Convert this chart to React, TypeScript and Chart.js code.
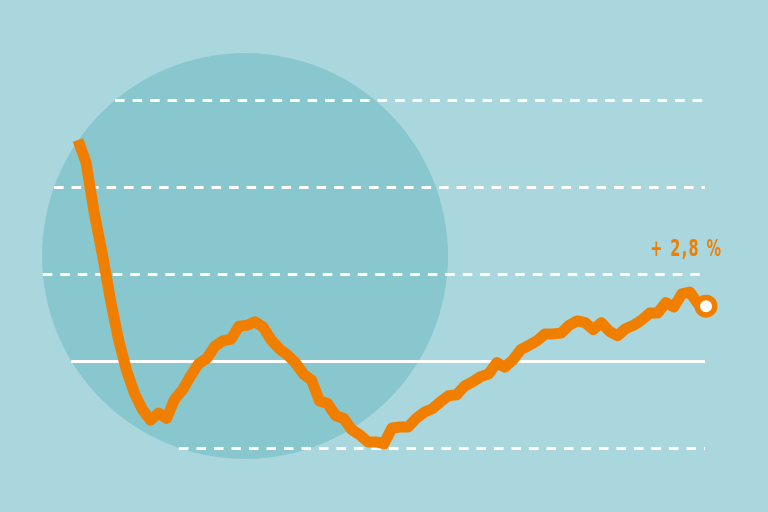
import React, { useEffect, useRef } from "react";
import { Chart, registerables } from "chart.js";

Chart.register(...registerables);

// Index of observations (equally spaced periods)
const periods: string[] = Array.from({ length: 79 }, (_, i) => `P${i + 1}`);

// Series values (grid step = 10 units, solid line = 0)
const seriesValues: number[] = [
  25.4, 22.8, 17.1, 12.4, 7.2, 2.6, -1.0, -3.7, -5.6, -6.8,
  -6.0, -6.6, -4.4, -3.3, -1.7, -0.3, 0.3, 1.7, 2.3, 2.5,
  4.0, 4.1, 4.5, 3.9, 2.4, 1.4, 0.7, -0.2, -1.5, -2.2,
  -4.6, -4.9, -6.3, -6.6, -7.9, -8.5, -9.3, -9.3, -9.5, -7.7,
  -7.6, -7.6, -6.6, -5.9, -5.5, -4.7, -4.0, -3.9, -2.9, -2.4,
  -1.8, -1.5, -0.2, -0.7, 0.1, 1.3, 1.8, 2.3, 3.1, 3.1,
  3.2, 4.1, 4.6, 4.4, 3.6, 4.4, 3.4, 2.9, 3.7, 4.1,
  4.7, 5.5, 5.5, 6.7, 6.2, 7.7, 7.9, 6.6, 6.3,
];

// Horizontal reference lines (0 drawn solid)
const gridValues: number[] = [-10, 0, 10, 20, 30];
const endLabel = "+ 2,8 %";

const BG = "#aad7dd";
const CIRCLE = "#89c7cf";
const ORANGE = "#f07f00";

export default function App() {
  const ref = useRef<HTMLCanvasElement | null>(null);

  useEffect(() => {
    document.body.style.margin = "0";
    const canvas = ref.current;
    if (!canvas) return;

    const circle = { cx: 245, cy: 256, r: 203 };

    const decor = {
      id: "decor",
      beforeDraw(chart: any) {
        const { ctx, width, height } = chart;
        ctx.save();
        ctx.fillStyle = BG;
        ctx.fillRect(0, 0, width, height);
        ctx.beginPath();
        ctx.arc(circle.cx, circle.cy, circle.r, 0, Math.PI * 2);
        ctx.fillStyle = CIRCLE;
        ctx.fill();
        ctx.restore();
      },
      beforeDatasetsDraw(chart: any) {
        const { ctx, chartArea } = chart;
        const y = chart.scales.y;
        ctx.save();
        ctx.strokeStyle = "#ffffff";
        gridValues.forEach((v) => {
          const py = y.getPixelForValue(v);
          const dy = py - circle.cy;
          const half = Math.sqrt(Math.max(0, circle.r * circle.r - dy * dy));
          const x0 = circle.cx - half;
          const x1 = chartArea.right - 1;
          ctx.beginPath();
          if (v === 0) {
            ctx.setLineDash([]);
            ctx.lineWidth = 3;
          } else {
            ctx.setLineDash([9.5, 8]);
            ctx.lineWidth = 3;
          }
          ctx.moveTo(x0, Math.round(py) + 0.5);
          ctx.lineTo(x1, Math.round(py) + 0.5);
          ctx.stroke();
        });
        ctx.restore();
      },
      afterDatasetsDraw(chart: any) {
        const { ctx } = chart;
        const meta = chart.getDatasetMeta(0);
        const last = meta.data[meta.data.length - 1];
        ctx.save();
        ctx.fillStyle = ORANGE;
        ctx.font = "bold 23px 'DejaVu Sans Condensed', 'DejaVu Sans', sans-serif";
        (ctx as any).letterSpacing = "2px";
        ctx.textAlign = "right";
        ctx.textBaseline = "middle";
        ctx.translate(last.x + 15, last.y - 56);
        ctx.scale(0.7, 1);
        ctx.fillText(endLabel, 2, 0);
        ctx.restore();
      },
    };

    const n = seriesValues.length;
    const chart = new Chart(canvas, {
      type: "line",
      data: {
        labels: periods,
        datasets: [
          {
            data: seriesValues,
            borderColor: ORANGE,
            borderWidth: 11,
            borderJoinStyle: "round",
            borderCapStyle: "butt",
            tension: 0,
            clip: false as any,
            pointRadius: seriesValues.map((_, i) => (i === n - 1 ? 8.75 : 0)),
            pointBorderWidth: 5.5,
            pointBackgroundColor: "#ffffff",
            pointBorderColor: ORANGE,
            pointHoverRadius: 0,
          },
        ],
      },
      options: {
        animation: false,
        responsive: false,
        maintainAspectRatio: false,
        events: [],
        layout: { autoPadding: false, padding: { left: 78, right: 62, top: 0, bottom: 0 } },
        plugins: { legend: { display: false }, tooltip: { enabled: false } },
        scales: {
          x: { display: false, offset: false },
          y: { display: false, min: -17.36, max: 41.49 },
        },
      },
      plugins: [decor],
    });

    return () => chart.destroy();
  }, []);

  return (
    <div style={{ width: 768, height: 512 }}>
      <canvas ref={ref} width={768} height={512} style={{ display: "block", width: 768, height: 512 }} />
    </div>
  );
}
